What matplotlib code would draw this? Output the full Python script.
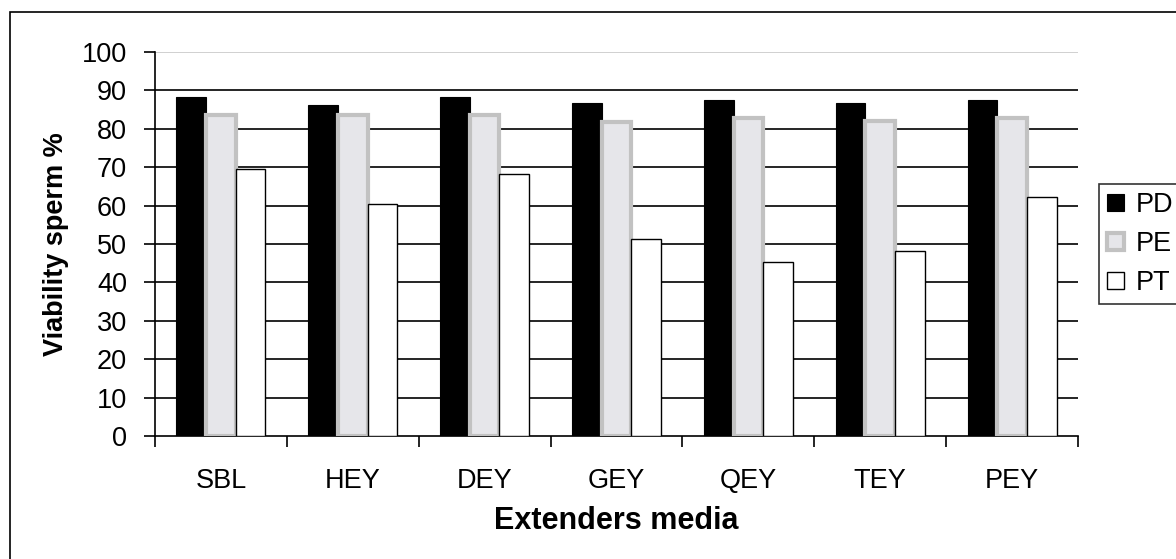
import matplotlib
matplotlib.use("Agg")
import matplotlib.pyplot as plt
import numpy as np
from matplotlib.patches import Rectangle

categories = ["SBL", "HEY", "DEY", "GEY", "QEY", "TEY", "PEY"]
pd_vals = [88.2, 86.2, 88.2, 86.6, 87.4, 86.6, 87.4]
pe_vals = [83.6, 83.6, 83.6, 81.7, 82.9, 82.1, 82.9]
pt_vals = [69.5, 60.3, 68.3, 51.2, 45.4, 48.2, 62.3]
series_names = ["PD", "PE", "PT"]
y_ticks = [0, 10, 20, 30, 40, 50, 60, 70, 80, 90, 100]

plt.rcParams["font.family"] = ["Liberation Sans", "DejaVu Sans"]

fig = plt.figure(figsize=(11.76, 5.59), dpi=100)
ax = fig.add_axes([155 / 1176, 1 - 436 / 559, (1078 - 155) / 1176, (436 - 52) / 559])

# outer chart-area border (runs off the right/bottom edge like the source)
fig.patches.append(Rectangle((10 / 1176, -0.1), 1.2, 1 - 12 / 559 + 0.1,
                             transform=fig.transFigure, fill=False,
                             edgecolor="black", linewidth=1.2, zorder=0))

x = np.arange(len(categories))
w = 0.225
ax.bar(x - w, pd_vals, w, color="black", edgecolor="black", linewidth=0.8, label=series_names[0], zorder=3)
ax.bar(x, pe_vals, w, color="#e6e6ea", edgecolor="#c2c2c2", linewidth=3, label=series_names[1], zorder=3)
ax.bar(x + w, pt_vals, w, color="white", edgecolor="black", linewidth=1, label=series_names[2], zorder=3)

# gridlines: black, top one light gray
for t in y_ticks[1:-1]:
    ax.axhline(t, color="black", linewidth=1.2, zorder=1)
ax.axhline(100, color="#c8c8c8", linewidth=1.2, zorder=1)

ax.set_xlim(-0.5, len(categories) - 0.5)
ax.set_ylim(0, 100)
ax.set_yticks(y_ticks)
ax.set_xticks(x)
ax.set_xticklabels(categories)
ax.set_xticks(np.arange(len(categories) + 1) - 0.5, minor=True)
ax.tick_params(axis="x", which="major", length=0, pad=23, labelsize=19.5)
ax.tick_params(axis="x", which="minor", length=8, width=1.2, direction="out")
ax.tick_params(axis="y", length=8, width=1.2, direction="out", labelsize=19.5, pad=12)

for side in ["top", "right"]:
    ax.spines[side].set_visible(False)
ax.spines["left"].set_linewidth(1.2)
ax.spines["bottom"].set_linewidth(1.2)

ax.set_xlabel("Extenders media", fontsize=22, fontweight="bold", labelpad=9)
ax.set_ylabel("Viability sperm %", fontsize=19.5, fontweight="bold", labelpad=9)

leg = fig.legend(loc="center left", bbox_to_anchor=(1099 / 1176, 1 - 244 / 559),
                 fontsize=19.5, frameon=True, fancybox=False, handlelength=0.63,
                 handleheight=0.63, handletextpad=0.44, borderpad=0.3,
                 labelspacing=0.48, borderaxespad=0)
leg.get_frame().set_edgecolor("black")
leg.get_frame().set_linewidth(1.2)

fig.savefig("out.png", dpi=100)
